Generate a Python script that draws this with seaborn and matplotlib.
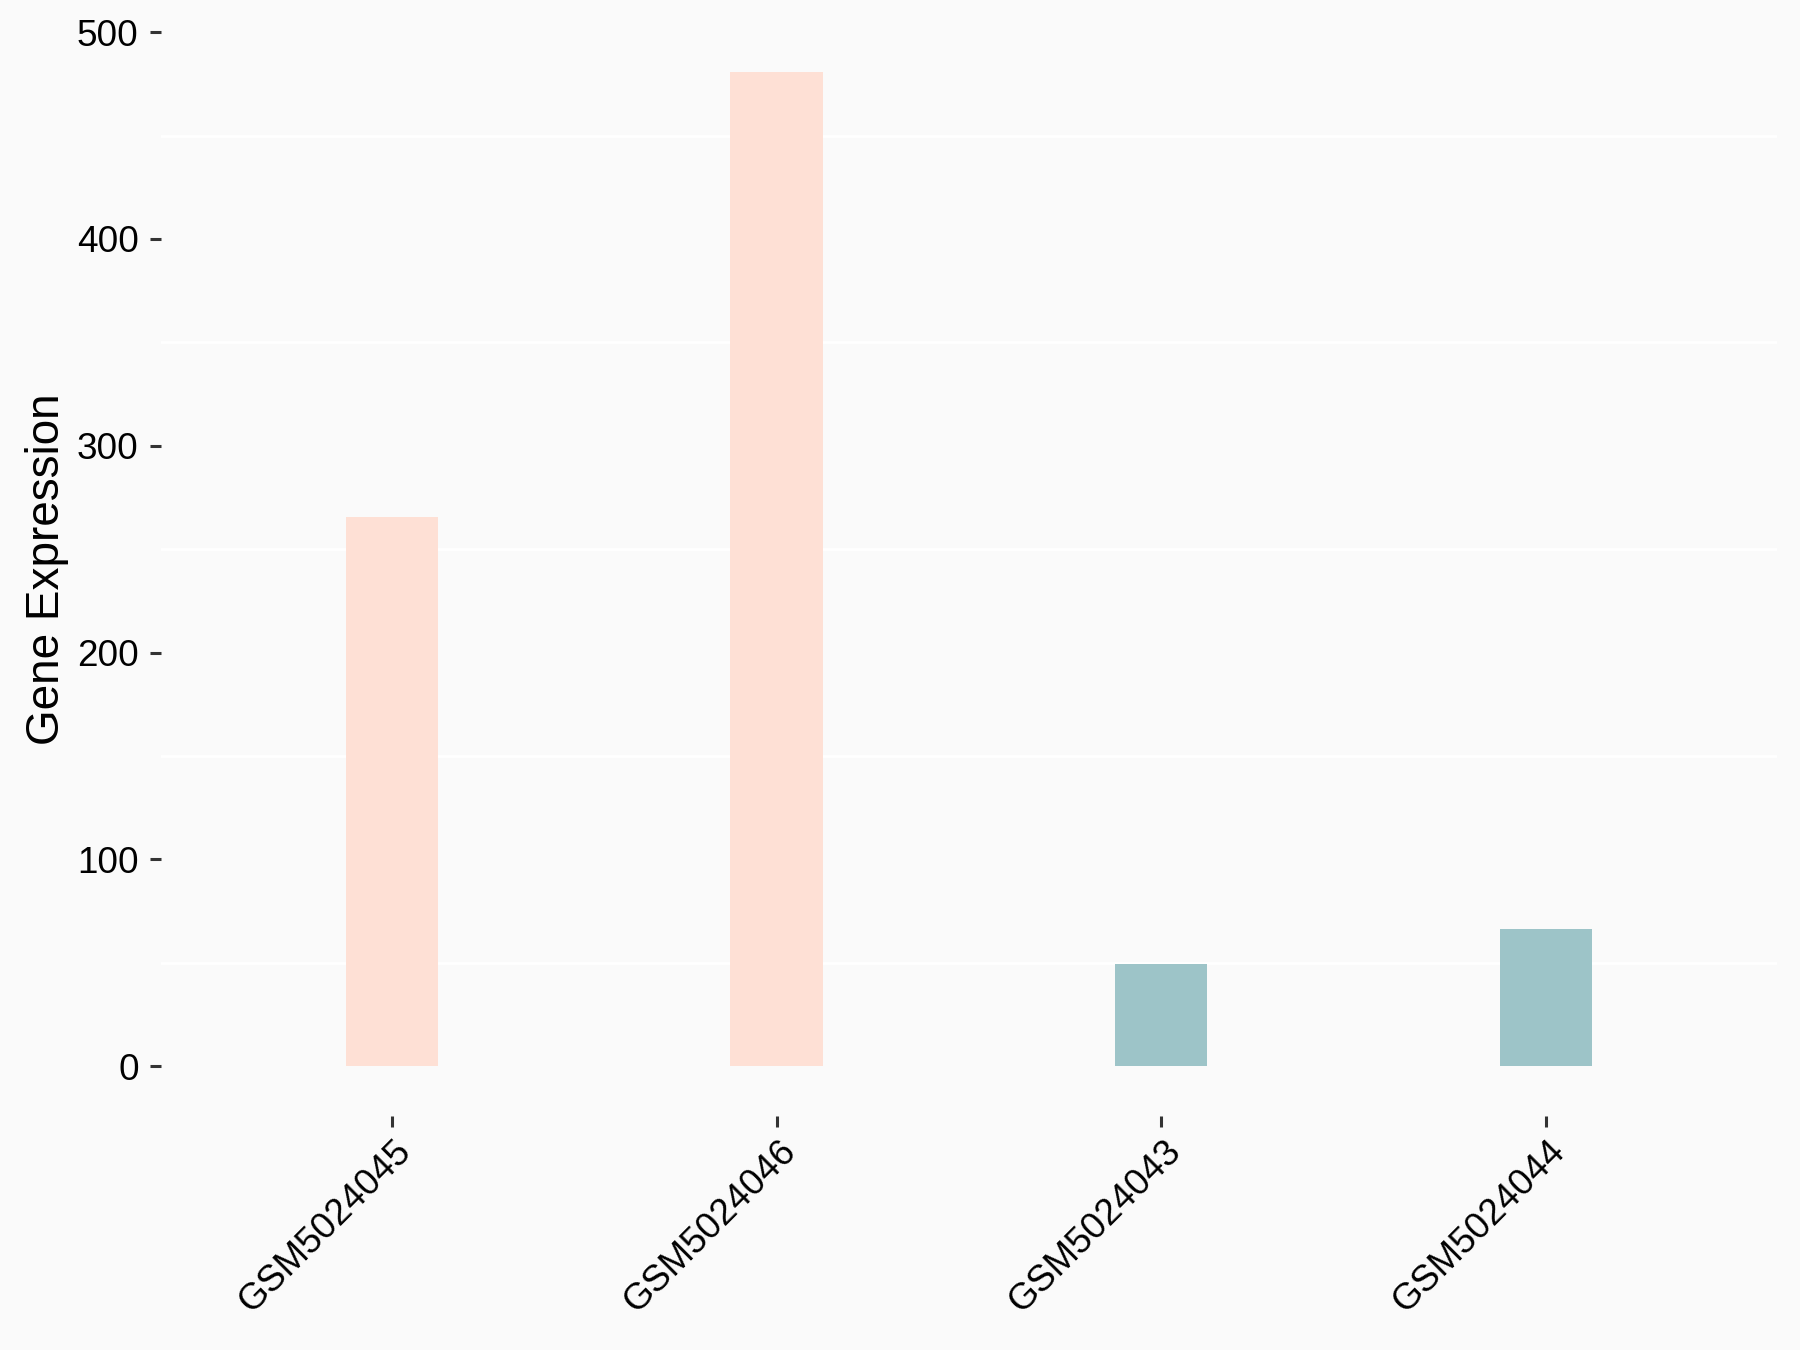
import pandas as pd
import seaborn as sns
import matplotlib.pyplot as plt
from matplotlib.transforms import ScaledTranslation

# values
samples = ['GSM5024045', 'GSM5024046', 'GSM5024043', 'GSM5024044']
expression = [265.5, 480.6, 49.3, 66.5]
groups = ['Case', 'Case', 'Control', 'Control']
group_colors = {'Case': '#FEE0D5', 'Control': '#9DC4C8'}
y_ticks = [0, 100, 200, 300, 400, 500]
y_minor = [50, 150, 250, 350, 450]

df = pd.DataFrame({'sample': samples, 'expr': expression, 'group': groups})

sns.set_theme(style='white')
plt.rcParams['font.family'] = ['Liberation Sans', 'DejaVu Sans']
bg = '#FAFAFA'

fig = plt.figure(figsize=(9, 6.75), dpi=200, facecolor=bg)
ax = fig.add_axes([0.0894, 0.1733, 0.8978, 0.81])
ax.set_facecolor(bg)

sns.barplot(data=df, x='sample', y='expr', hue='group', palette=group_colors,
            order=samples, dodge=False, width=0.24, legend=False, ax=ax,
            saturation=1, linewidth=0)

# ggplot-style 5% expansion
pad = 0.05 * max(expression)
ax.set_ylim(-pad, max(expression) + pad)
ax.set_xlim(-0.6, len(samples) - 0.4)

ax.set_yticks(y_ticks)
ax.set_yticks(y_minor, minor=True)
ax.grid(False)
ax.grid(True, which='minor', axis='y', color='white', linewidth=1.0)
ax.set_axisbelow(True)

for s in ax.spines.values():
    s.set_visible(False)

ax.tick_params(axis='both', which='major', length=4, width=1.1, color='#333333',
               labelsize=13.3, labelcolor='black', pad=4, left=True, bottom=True)
ax.tick_params(axis='y', which='minor', length=0)

# rotated sample names, nudged a little like the original
shift = ScaledTranslation(0.5 / 72, 1.5 / 72, fig.dpi_scale_trans)
for lab in ax.get_xticklabels():
    lab.set_rotation(45)
    lab.set_ha('right')
    lab.set_va('top')
    lab.set_rotation_mode('anchor')
    lab.set_transform(lab.get_transform() + shift)

ax.set_xlabel('')
ax.set_ylabel('Gene Expression', fontsize=16.5, color='black')
ax.yaxis.set_label_coords(-0.057, 0.5)

plt.savefig('out.png', dpi=200, facecolor=bg)
